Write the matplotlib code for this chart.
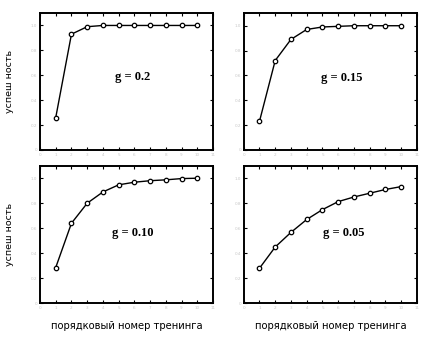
import matplotlib
matplotlib.use("Agg")
import matplotlib.pyplot as plt

trainings = list(range(1, 11))
s_g020 = [0.26, 0.93, 0.99, 1.0, 1.0, 1.0, 1.0, 1.0, 1.0, 1.0]
s_g015 = [0.23, 0.72, 0.89, 0.97, 0.99, 0.995, 1.0, 1.0, 1.0, 1.0]
s_g010 = [0.286, 0.64, 0.80, 0.89, 0.947, 0.968, 0.98, 0.987, 0.997, 1.0]
s_g005 = [0.28, 0.45, 0.567, 0.67, 0.749, 0.813, 0.85, 0.88, 0.91, 0.933]
labels = ["g = 0.2", "g = 0.15", "g = 0.10", "g = 0.05"]
label_pos = [(5.9, 0.59), (6.2, 0.58), (5.9, 0.56), (6.35, 0.56)]
y_ticks = [0, 0.2, 0.4, 0.6, 0.8, 1.0]
x_ticks = list(range(0, 12))
ylabel = "успеш ность"
xlabel = "порядковый номер тренинга"

W, H = 446, 358
fig = plt.figure(figsize=(W / 100, H / 100), dpi=100)
boxes = [(40, 213, 13, 150), (243.7, 417, 13.3, 150),
         (40, 213, 165.7, 303.3), (243.7, 417, 165.7, 303.3)]
series = [s_g020, s_g015, s_g010, s_g005]
for i, ((l, r, t, b), s, lab, pos) in enumerate(zip(boxes, series, labels, label_pos)):
    ax = fig.add_axes([l / W, (H - b) / H, (r - l) / W, (b - t) / H])
    ax.plot(trainings, s, color="black", lw=1.0, marker="o", ms=3.2,
            mfc="white", mec="black", mew=0.9)
    ax.set_xlim(0, 11)
    ax.set_ylim(0, 1.1)
    ax.set_xticks(x_ticks)
    ax.set_yticks(y_ticks)
    ax.set_xticklabels([str(v) for v in x_ticks])
    ax.set_yticklabels([f"{v:.1f}" if v else "0" for v in y_ticks])
    ax.tick_params(direction="in", length=2, width=0.8, top=True, right=True,
                   labelsize=3, labelcolor="#c8c8c8", pad=2)
    for sp in ax.spines.values():
        sp.set_linewidth(1.4)
    ax.text(pos[0], pos[1], lab, ha="center", va="center", fontsize=9,
            fontweight="bold", family="Liberation Serif")
    if i % 2 == 0:
        ax.set_ylabel(ylabel, fontsize=6.8, labelpad=12)
    if i >= 2:
        ax.set_xlabel(xlabel, fontsize=7.2, labelpad=8)

fig.savefig("out.png", dpi=100)
